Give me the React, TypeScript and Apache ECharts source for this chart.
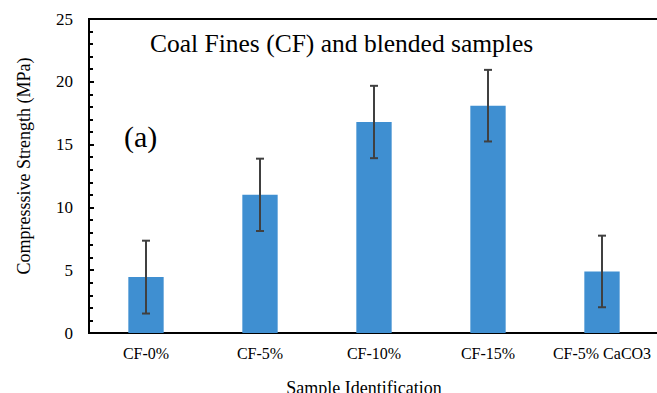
import React, { useEffect, useRef } from "react";
import * as echarts from "echarts";

// Sample groups and measured compressive strength (MPa) with standard deviation
const categories = ["CF-0%", "CF-5%", "CF-10%", "CF-15%", "CF-5% CaCO3"];
const strength = [4.45, 11.0, 16.8, 18.1, 4.9];
const deviation = [2.9, 2.88, 2.88, 2.85, 2.85];
const yTicks = [0, 5, 10, 15, 20, 25];

const FONT = "Liberation Serif";

export default function App() {
  const ref = useRef<HTMLDivElement>(null);

  useEffect(() => {
    if (!ref.current) return;
    const chart = echarts.init(ref.current, undefined, { renderer: "svg" });

    const errorData = strength.map((v, i) => [i, v - deviation[i], v + deviation[i]]);

    chart.setOption({
      animation: false,
      backgroundColor: "#ffffff",
      textStyle: { fontFamily: FONT },
      grid: {
        left: 89,
        top: 19,
        width: 570,
        height: 314,
        outerBoundsMode: "none",
        containLabel: false,
        show: true,
        borderColor: "#000000",
        borderWidth: 2,
        backgroundColor: "transparent",
      },
      xAxis: {
        type: "category",
        data: categories,
        name: "Sample Identification",
        nameLocation: "middle",
        nameGap: 46,
        nameTextStyle: { fontFamily: FONT, fontSize: 18, color: "#000", padding: [0, 20, 0, 0] },
        axisLine: { lineStyle: { color: "#000", width: 2 } },
        axisTick: { show: false },
        axisLabel: { interval: 0, fontFamily: FONT, fontSize: 16, color: "#000", margin: 12 },
      },
      yAxis: {
        type: "value",
        min: yTicks[0],
        max: yTicks[yTicks.length - 1],
        interval: 5,
        name: "Compresssive Strength (MPa)",
        nameLocation: "middle",
        nameGap: 56,
        nameTextStyle: { fontFamily: FONT, fontSize: 18, color: "#000", padding: [0, 0, 0, 20] },
        axisLine: { show: true, lineStyle: { color: "#000", width: 2 } },
        axisTick: { show: true, inside: true, length: 5, lineStyle: { color: "#000", width: 2 } },
        minorTick: { show: true, splitNumber: 5, length: 4, lineStyle: { color: "#000", width: 2 } },
        splitLine: { show: false },
        axisLabel: { fontFamily: FONT, fontSize: 17, color: "#000", margin: 16 },
      },
      series: [
        {
          type: "bar",
          data: strength,
          barWidth: "31%",
          itemStyle: { color: "#3F8FD1" },
        },
        {
          type: "custom",
          data: errorData,
          z: 10,
          renderItem: (params: any, api: any) => {
            const idx = api.value(0);
            const low = api.coord([idx, api.value(1)]);
            const high = api.coord([idx, api.value(2)]);
            const half = 4;
            const style = { stroke: "#404040", lineWidth: 2 };
            return {
              type: "group",
              children: [
                { type: "line", shape: { x1: high[0], y1: high[1], x2: low[0], y2: low[1] }, style },
                { type: "line", shape: { x1: high[0] - half, y1: high[1], x2: high[0] + half, y2: high[1] }, style },
                { type: "line", shape: { x1: low[0] - half, y1: low[1], x2: low[0] + half, y2: low[1] }, style },
              ],
            };
          },
        },
      ],
      graphic: [
        {
          type: "text",
          left: 150,
          top: 30,
          style: {
            text: "Coal Fines (CF) and blended samples",
            fontFamily: FONT,
            fontSize: 25.5,
            fill: "#000",
          },
        },
        {
          type: "text",
          left: 124,
          top: 121,
          style: { text: "(a)", fontFamily: FONT, fontSize: 30, fill: "#000" },
        },
      ],
    });

    return () => chart.dispose();
  }, []);

  return (
    <div
      ref={ref}
      style={{ position: "fixed", left: 0, top: 0, width: 657, height: 393, background: "#fff" }}
    />
  );
}
